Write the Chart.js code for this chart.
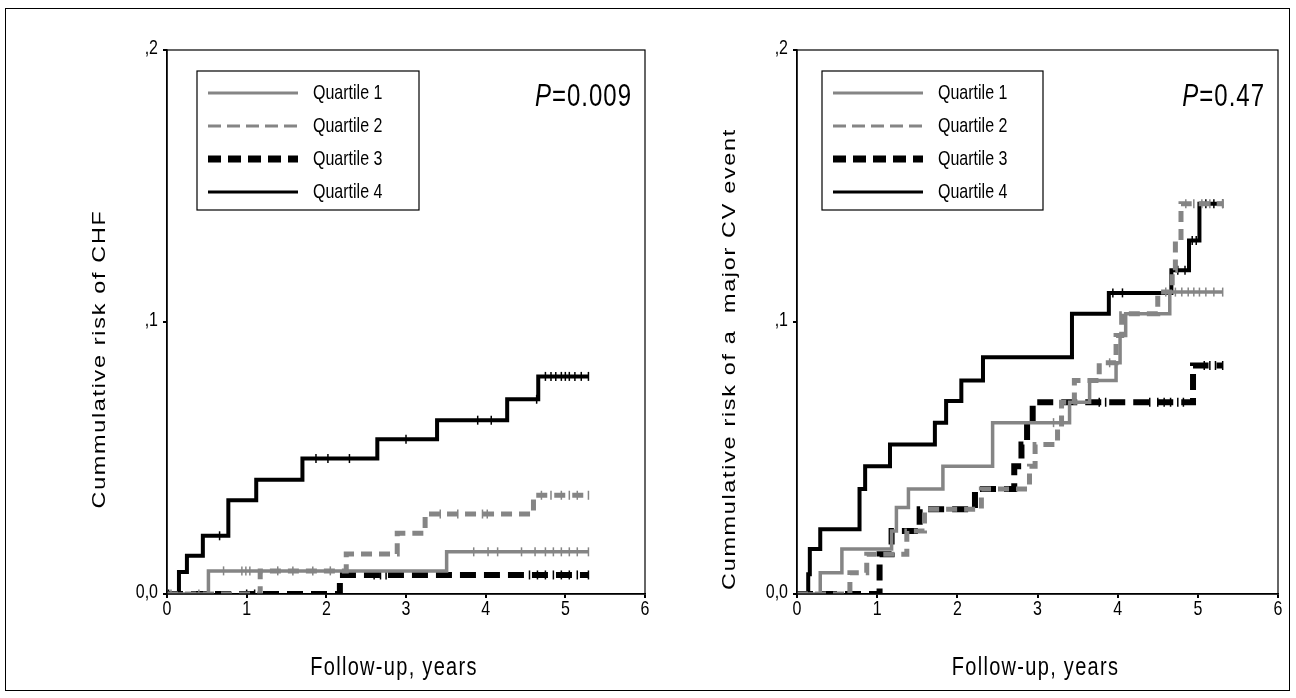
<!DOCTYPE html>
<html>
<head>
<meta charset="utf-8">
<title>Cumulative risk by quartile</title>
<script src="https://cdn.jsdelivr.net/npm/chart.js@4.4.1/dist/chart.umd.min.js"></script>
<style>
  body { margin: 0; background: #fff; }
  #wrap { position: relative; width: 1296px; height: 698px; overflow: hidden; }
  #frame { position: absolute; left: 5px; top: 8px; width: 1285px; height: 683px; border: 1.5px solid #000; box-sizing: border-box; }
  canvas { position: absolute; top: 0; }
  #chartChf { left: 0; }
  #chartCv { left: 660px; }
</style>
</head>
<body>
<div id="wrap">
  <div id="frame"></div>
  <canvas id="chartChf" width="660" height="698"></canvas>
  <canvas id="chartCv" width="636" height="698"></canvas>
</div>
<script>
var xTickLabels = ['0', '1', '2', '3', '4', '5', '6'];
var yTickLabels = ['0,0', ',1', ',2'];
var seriesLabels = ['Quartile 1', 'Quartile 2', 'Quartile 3', 'Quartile 4'];
var xTitle = 'Follow-up, years';

// left panel: CHF. steps are [years, cumulative risk], censor are years
var chfTitle = 'Cummulative risk of CHF';
var chfP = '=0.009';
var chfQ1Steps = [[0, 0], [0.52, 0.0085], [3.51, 0.0155]];
var chfQ1Censor = [0.71, 0.94, 0.99, 1.04, 1.39, 1.58, 1.83, 2.05, 3.85, 4.03, 4.15, 4.45, 4.62, 4.75, 4.85, 4.95, 5.05, 5.15, 5.29];
var chfQ2Steps = [[0, 0], [1.17, 0.0085], [2.25, 0.0147], [2.89, 0.0223], [3.24, 0.0294], [4.6, 0.0363]];
var chfQ2Censor = [0.05, 0.4, 3.43, 3.65, 3.96, 4.02, 4.7, 4.82, 4.95, 5.05, 5.15, 5.29];
var chfQ3Steps = [[0, 0], [2.17, 0.007]];
var chfQ3Censor = [0.02, 1.0, 1.1, 2.6, 2.68, 2.75, 4.55, 4.65, 4.75, 4.85, 4.95, 5.05, 5.15, 5.29];
var chfQ4Steps = [[0, 0], [0.15, 0.0081], [0.25, 0.0141], [0.45, 0.0214], [0.77, 0.0345], [1.12, 0.042], [1.7, 0.0498], [2.64, 0.0569], [3.39, 0.0639], [4.27, 0.0716], [4.66, 0.08]];
var chfQ4Censor = [0.66, 1.87, 2.02, 2.29, 3.0, 3.9, 4.07, 4.64, 4.75, 4.82, 4.88, 4.95, 5.0, 5.05, 5.12, 5.2, 5.29];

// right panel: major CV event
var cvTitle = 'Cummulative risk of a  major CV event';
var cvP = '=0.47';
var cvQ1Steps = [[0, 0], [0.29, 0.0078], [0.56, 0.0165], [1.18, 0.0232], [1.24, 0.0318], [1.39, 0.0386], [1.82, 0.047], [2.44, 0.063], [3.4, 0.0705], [3.65, 0.0785], [3.98, 0.085], [4.03, 0.095], [4.1, 0.103], [4.65, 0.111]];
var cvQ1Censor = [3.2, 4.72, 4.8, 4.88, 4.95, 5.02, 5.1, 5.2, 5.31];
var cvQ2Steps = [[0, 0], [0.66, 0.0078], [0.87, 0.0146], [1.37, 0.0232], [1.59, 0.0312], [2.3, 0.0386], [2.9, 0.047], [2.97, 0.055], [3.25, 0.0613], [3.3, 0.0705], [3.46, 0.0785], [3.77, 0.085], [3.98, 0.095], [4.05, 0.103], [4.5, 0.111], [4.68, 0.119], [4.72, 0.13], [4.79, 0.1435]];
var cvQ2Censor = [3.9, 4.6, 4.85, 4.95, 5.05, 5.15, 5.31];
var cvQ3Steps = [[0, 0], [1.03, 0.0146], [1.18, 0.0232], [1.53, 0.0312], [2.22, 0.0386], [2.71, 0.047], [2.8, 0.055], [2.87, 0.063], [2.94, 0.0705], [4.94, 0.084]];
var cvQ3Censor = [3.77, 3.85, 4.4, 4.5, 4.58, 4.66, 4.75, 4.82, 5.08, 5.15, 5.22, 5.31];
var cvQ4Steps = [[0, 0], [0.14, 0.0073], [0.16, 0.0165], [0.29, 0.0238], [0.78, 0.0386], [0.85, 0.047], [1.16, 0.055], [1.72, 0.063], [1.86, 0.071], [2.05, 0.0785], [2.32, 0.087], [3.43, 0.103], [3.89, 0.1107], [4.67, 0.119], [4.89, 0.13], [5.02, 0.1435]];
var cvQ4Censor = [3.94, 4.06, 4.75, 4.84, 4.93, 4.98, 5.1, 5.2, 5.31];

var lineStyles = [
    { color: '#858585', width: 3.5, dash: [], legendWidth: 3, legendDash: [] },
    { color: '#858585', width: 5, dash: [11, 7], legendWidth: 3, legendDash: [13, 6] },
    { color: '#000000', width: 6, dash: [16, 8], legendWidth: 7, legendDash: [13, 7] },
    { color: '#000000', width: 4, dash: [], legendWidth: 3, legendDash: [] }
];

var fontFamily = '"Liberation Sans", Arial, sans-serif';
var stretch = 1.3; // the original text is tall and narrow

// merge steps and censor marks into one point list
function kmPoints(steps, censor) {
    var pts = steps.map(function(s) { return { x: s[0], y: s[1], c: false }; });
    censor.forEach(function(t) {
        var v = 0;
        steps.forEach(function(s) { if (s[0] <= t) v = s[1]; });
        pts.push({ x: t, y: v, c: true });
    });
    pts.sort(function(a, b) { return a.x - b.x; });
    return pts;
}

function drawText(ctx, text, x, y, font, align, rotate, spacing) {
    ctx.save();
    ctx.translate(x, y);
    ctx.scale(1, stretch);
    if (rotate) ctx.rotate(rotate);
    ctx.font = font;
    ctx.letterSpacing = spacing || '0px';
    ctx.textAlign = align || 'left';
    ctx.textBaseline = 'middle';
    ctx.fillStyle = '#000';
    ctx.fillText(text, 0, 0);
    ctx.restore();
}

var decorPlugin = {
    id: 'decor',
    afterDraw: function(chart, args, opts) {
        var ctx = chart.ctx;
        var a = chart.chartArea;
        var xs = chart.scales.x, ys = chart.scales.y;
        ctx.save();
        // plot box
        ctx.strokeStyle = '#000';
        ctx.lineWidth = 1.2;
        ctx.strokeRect(a.left, a.top, a.right - a.left, a.bottom - a.top);

        // tick labels
        xs.ticks.forEach(function(t, i) {
            drawText(ctx, xTickLabels[i], xs.getPixelForValue(t.value), a.bottom + 15, '16px ' + fontFamily, 'center');
        });
        ys.ticks.forEach(function(t, i) {
            drawText(ctx, yTickLabels[i], a.left - 9, ys.getPixelForValue(t.value) - 2, '16px ' + fontFamily, 'right');
        });

        // axis titles
        drawText(ctx, xTitle, (a.left + a.right) / 2 + opts.xTitleShift, 668, '20px ' + fontFamily, 'center', 0, '1.3px');
        drawText(ctx, opts.yTitle, a.left - 67, a.top + 309, '18px ' + fontFamily, 'center', -Math.PI / 2, '1.3px');

        // legend box
        var lx = a.left + opts.legendLeft, ly = a.top + 21;
        ctx.lineWidth = 1.2;
        ctx.strokeStyle = '#000';
        ctx.strokeRect(lx, ly, opts.legendWidth, 139);
        chart.data.datasets.forEach(function(ds, i) {
            var y = ly + 22 + i * 33;
            var st = lineStyles[i];
            ctx.beginPath();
            ctx.setLineDash(st.legendDash);
            ctx.lineWidth = st.legendWidth;
            ctx.strokeStyle = st.color;
            ctx.moveTo(lx + 11, y);
            ctx.lineTo(lx + 101, y);
            ctx.stroke();
            ctx.setLineDash([]);
            drawText(ctx, ds.label, lx + 116, y, '16px ' + fontFamily, 'left');
        });

        // P value
        var pFont = 'italic 24px ' + fontFamily, restFont = '24px ' + fontFamily;
        ctx.font = restFont;
        ctx.letterSpacing = '1px';
        var restW = ctx.measureText(opts.pText).width;
        ctx.font = pFont;
        var pW = ctx.measureText('P').width;
        var px = a.right - 13 - restW - pW;
        drawText(ctx, 'P', px, a.top + 47, pFont, 'left', 0, '1px');
        drawText(ctx, opts.pText, px + pW, a.top + 47, restFont, 'left', 0, '1px');
        ctx.restore();
    }
};

function makeChart(id, steps, censors, yAxisWidth, padRight, decor) {
    var datasets = steps.map(function(s, i) {
        var st = lineStyles[i];
        return {
            label: seriesLabels[i],
            data: kmPoints(s, censors[i]),
            borderColor: st.color,
            borderWidth: st.width,
            borderDash: st.dash,
            stepped: 'before',
            fill: false,
            pointStyle: 'line',
            pointRotation: 90,
            pointRadius: function(ctx) { return ctx.raw && ctx.raw.c ? 4.5 : 0; },
            pointHoverRadius: 0,
            pointBorderColor: st.color,
            pointBorderWidth: 1.5
        };
    });
    var axisGrid = { drawOnChartArea: false, drawTicks: true, tickLength: 4, color: '#000', lineWidth: 2 };
    return new Chart(document.getElementById(id), {
        type: 'line',
        data: { datasets: datasets },
        options: {
            responsive: false,
            animation: false,
            devicePixelRatio: 1,
            layout: { padding: { top: 50, right: padRight, bottom: 0, left: 0 } },
            plugins: { legend: { display: false }, tooltip: { enabled: false }, decor: decor },
            scales: {
                x: {
                    type: 'linear', min: 0, max: 6,
                    ticks: { stepSize: 1, display: false },
                    grid: axisGrid,
                    border: { color: '#000', width: 1.5 },
                    afterFit: function(s) { s.height = 104; }
                },
                y: {
                    type: 'linear', min: 0, max: 0.2,
                    ticks: { stepSize: 0.1, display: false },
                    grid: axisGrid,
                    border: { color: '#000', width: 1.5 },
                    afterFit: function(s) { s.width = yAxisWidth; }
                }
            }
        },
        plugins: [decorPlugin]
    });
}

makeChart('chartChf',
    [chfQ1Steps, chfQ2Steps, chfQ3Steps, chfQ4Steps],
    [chfQ1Censor, chfQ2Censor, chfQ3Censor, chfQ4Censor],
    167, 15,
    { yTitle: chfTitle, pText: chfP, legendLeft: 30, legendWidth: 222, xTitleShift: -12 });

makeChart('chartCv',
    [cvQ1Steps, cvQ2Steps, cvQ3Steps, cvQ4Steps],
    [cvQ1Censor, cvQ2Censor, cvQ3Censor, cvQ4Censor],
    137, 18,
    { yTitle: cvTitle, pText: cvP, legendLeft: 25, legendWidth: 221, xTitleShift: -2 });
</script>
</body>
</html>
